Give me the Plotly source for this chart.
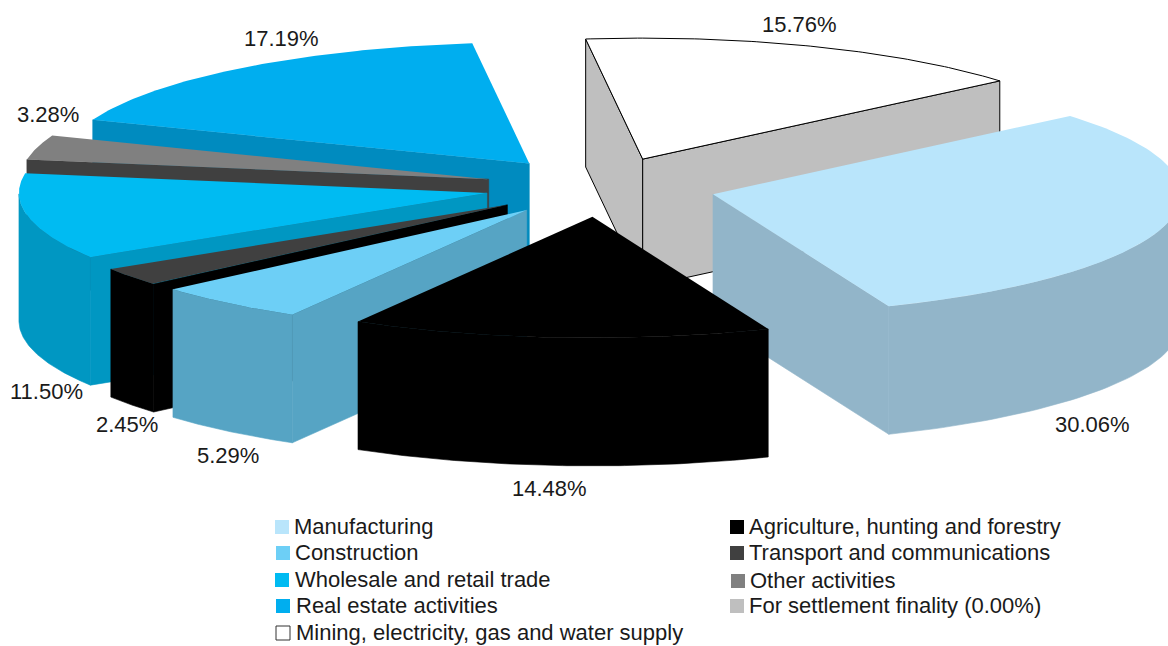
import numpy as np
import plotly.graph_objects as go

# Shares of each sector, in clockwise pie order starting from the mining slice
categories = [
    "Mining, electricity, gas and water supply",
    "Manufacturing",
    "Agriculture, hunting and forestry",
    "Construction",
    "Transport and communications",
    "Wholesale and retail trade",
    "Other activities",
    "Real estate activities",
]
shares = [15.76, 30.06, 14.48, 5.29, 2.45, 11.50, 3.28, 17.19]

top_colors = ["#FFFFFF", "#B9E5FB", "#000000", "#6DCFF6", "#404040", "#00BBF2", "#808080", "#00AEEF"]
wall_colors = ["#BFBFBF", "#92B5C9", "#000000", "#56A4C4", "#000000", "#0097C2", "#404040", "#008BBF"]
edge_colors = ["#000000", None, None, None, None, None, None, None]

# Painter's order for the exploded slices, farthest first
draw_order = [0, 1, 7, 6, 5, 4, 3, 2]

# Pie geometry in page pixels
WIDTH, HEIGHT = 1168, 646
CX, CY = 600.5, 187.0
RX, RY = 468.0, 121.0
DEPTH = 128.0
EXPLODE = 0.2475
START_DEG = -7.0

# Label centres, in the same order as the slices
label_xy = [(799, 24), (1092, 424), (549, 488), (228, 455), (127, 424), (46, 391), (48, 114), (281, 38)]

# Two-column key: (name, swatch colour, swatch x, swatch centre y, text x)
key_rows = [
    ("Manufacturing", "#B9E5FB", 282, 527, 292),
    ("Construction", "#6DCFF6", 283, 553, 293),
    ("Wholesale and retail trade", "#00BBF2", 282, 580, 293),
    ("Real estate activities", "#00AEEF", 283, 606, 294),
    ("Mining, electricity, gas and water supply", "#FFFFFF", 283, 633, 294),
    ("Agriculture, hunting and forestry", "#000000", 737, 527, 747),
    ("Transport and communications", "#404040", 737, 553, 747),
    ("Other activities", "#808080", 738, 581, 748),
    ("For settlement finality (0.00%)", "#BFBFBF", 737, 606, 747),
]

FONT = "Liberation Sans, Arial, sans-serif"
TEXT_COLOR = "#1A1A1A"
TEXT_SIZE = 22


def project(phi, offset):
    """Screen position of rim angle phi (clockwise from the top) on the tilted disc."""
    return offset[0] + RX * np.sin(phi), offset[1] - RY * np.cos(phi)


def face(fig, xs, ys, fill, edge, name, seam=0.0):
    fig.add_trace(go.Scatter(
        x=list(xs), y=list(ys), mode="lines", fill="toself", fillcolor=fill,
        line=dict(color=edge or fill, width=1 if edge else seam),
        name=name, hoverinfo="name", showlegend=False,
    ))


total = sum(shares)
sweeps = np.radians(np.array(shares) / total * 360.0)
starts = np.radians(START_DEG) + np.concatenate(([0.0], np.cumsum(sweeps)[:-1]))

fig = go.Figure()

for i in draw_order:
    a0, a1 = starts[i], starts[i] + sweeps[i]
    mid = (a0 + a1) / 2
    tip = (CX + EXPLODE * RX * np.sin(mid), CY - EXPLODE * RY * np.cos(mid))
    phi = np.linspace(a0, a1, 90)
    rim_x, rim_y = project(phi, tip)

    # Radial walls are seen only when the top outline runs leftwards along them
    radial = [
        ((tip[0], tip[1]), (rim_x[0], rim_y[0])),
        ((rim_x[-1], rim_y[-1]), (tip[0], tip[1])),
    ]
    for p, q in radial:
        if q[0] < p[0]:
            face(fig, [p[0], q[0], q[0], p[0], p[0]],
                 [p[1], q[1], q[1] + DEPTH, p[1] + DEPTH, p[1]],
                 wall_colors[i], edge_colors[i], categories[i], seam=0.6)

    # Outer wall: only the stretch of rim on the viewer's side of the disc
    front = np.cos(phi) <= 0
    if front.any():
        fx, fy = rim_x[front], rim_y[front]
        face(fig, np.r_[fx, fx[::-1], fx[0]], np.r_[fy, fy[::-1] + DEPTH, fy[0]],
             wall_colors[i], edge_colors[i], categories[i], seam=0.6)

    face(fig, np.r_[tip[0], rim_x, tip[0]], np.r_[tip[1], rim_y, tip[1]],
         top_colors[i], edge_colors[i], categories[i])

# Value labels beside each slice
for value, (lx, ly) in zip(shares, label_xy):
    fig.add_annotation(x=lx, y=ly, text=f"{value:.2f}%", showarrow=False,
                       xanchor="center", yanchor="middle",
                       font=dict(family=FONT, size=TEXT_SIZE, color=TEXT_COLOR))

# Key: square swatches and their names
for name, color, sx, sy, tx in key_rows:
    outlined = color == "#FFFFFF"
    fig.add_trace(go.Scatter(
        x=[sx], y=[sy], mode="markers", hoverinfo="skip", showlegend=False,
        marker=dict(symbol="square", size=14, color=color,
                    line=dict(color="#333333", width=1 if outlined else 0)),
    ))
    fig.add_annotation(x=tx, y=sy - 1, text=name, showarrow=False,
                       xanchor="left", yanchor="middle",
                       font=dict(family=FONT, size=TEXT_SIZE, color=TEXT_COLOR))

fig.update_layout(
    width=WIDTH, height=HEIGHT,
    margin=dict(l=0, r=0, t=0, b=0),
    paper_bgcolor="#FFFFFF", plot_bgcolor="#FFFFFF",
    xaxis=dict(range=[0, WIDTH], visible=False, fixedrange=True),
    yaxis=dict(range=[HEIGHT, 0], visible=False, fixedrange=True),
)

fig.write_html("out.html", config={"displayModeBar": False},
               default_width=f"{WIDTH}px", default_height=f"{HEIGHT}px")
